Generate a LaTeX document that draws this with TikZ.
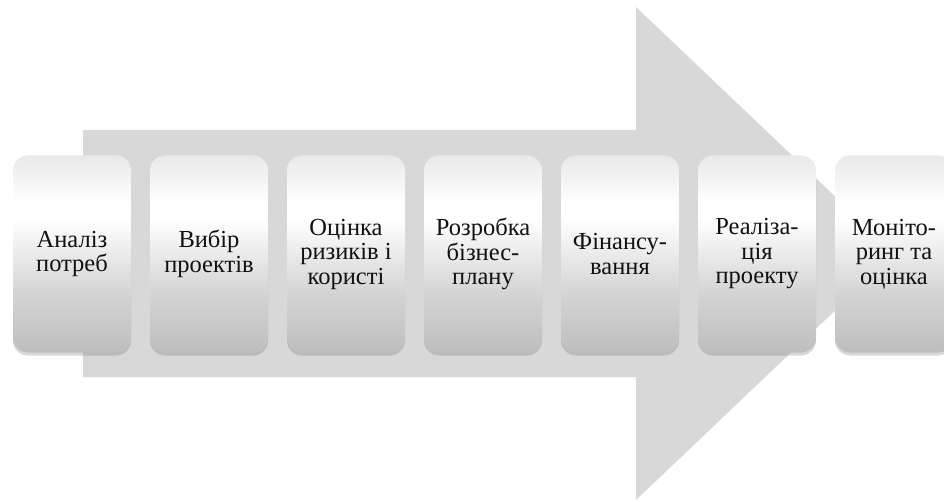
\documentclass[tikz,border=0pt]{standalone}
\usepackage{fontspec}
\setmainfont{Liberation Serif}
\usetikzlibrary{shadows}
\definecolor{arrowgray}{HTML}{D8D8D8}
\definecolor{boxbottom}{HTML}{BEBEBE}
\definecolor{boxlow}{HTML}{D4D4D4}
\definecolor{boxtop}{HTML}{E9E9E9}
\definecolor{textcol}{HTML}{111111}
\pgfdeclareverticalshading{boxshade}{100bp}{color(0bp)=(boxbottom); color(25bp)=(boxbottom); color(40bp)=(boxlow); color(59bp)=(white); color(63bp)=(white); color(75bp)=(boxtop); color(100bp)=(boxtop)}
\tikzset{
  stagebox/.style={shading=boxshade, rounded corners=15pt, minimum width=118pt,
    minimum height=197pt, inner sep=0pt, align=center, text=textcol,
    font=\fontsize{24.5}{24.5}\selectfont,
    drop shadow={shadow xshift=0pt, shadow yshift=-3pt, opacity=0.25, fill=black!60}},
}
\begin{document}
\begin{tikzpicture}[x=1pt,y=1pt]
\useasboundingbox (0,0) rectangle (944,501);
\clip (0,0) rectangle (944,501);
\fill[white] (0,0) rectangle (944,501);
% big arrow
\fill[arrowgray] (83,371) -- (636,371) -- (636,494) -- (895,247.5) -- (636,1) -- (636,124) -- (83,124) -- cycle;
% stages
\node[stagebox] (b1) at (72,247)  {Аналіз\\потреб};
\node[stagebox] (b2) at (209,247) {Вибір\\проектів};
\node[stagebox] (b3) at (346,247) {Оцінка\\ризиків і\\користі};
\node[stagebox] (b4) at (483,247) {Розробка\\бізнес-\\плану};
\node[stagebox] (b5) at (620,247) {Фінансу-\\вання};
\node[stagebox] (b6) at (757,247) {Реаліза-\\ція\\проекту};
\node[stagebox] (b7) at (894,247) {Моніто-\\ринг та\\оцінка};
\end{tikzpicture}
\end{document}
